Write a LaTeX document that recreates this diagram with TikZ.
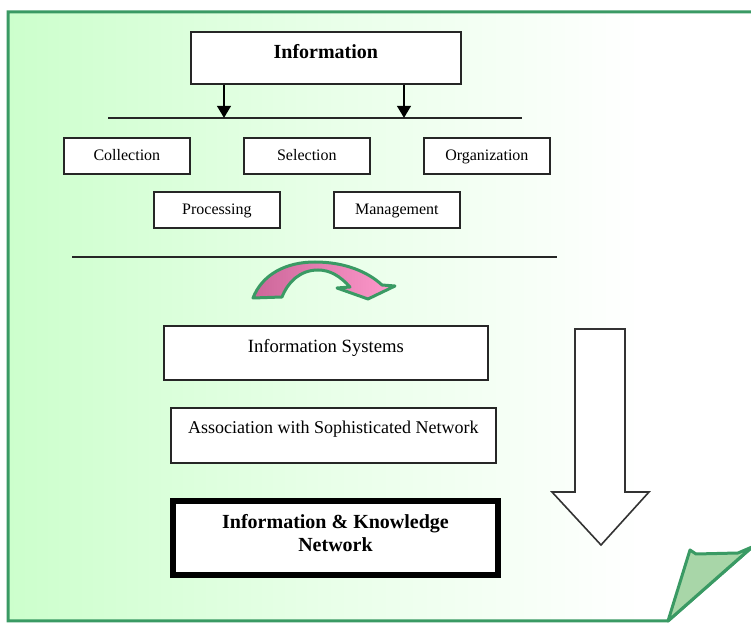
\documentclass[tikz,border=0pt]{standalone}
\usepackage{fontspec}
\setmainfont{Liberation Serif}
\usepackage{xcolor}
\usetikzlibrary{arrows.meta}

\definecolor{pagegreen}{RGB}{204,255,204}
\definecolor{edgegreen}{RGB}{58,154,100}
\definecolor{foldgreen}{RGB}{168,214,168}
\definecolor{darkpink}{RGB}{204,102,153}
\definecolor{lightpink}{RGB}{255,153,204}

\tikzset{
  box/.style={draw=black!85, fill=white, line width=1.3, inner sep=0pt, anchor=north west},
  headbox/.style={box, font=\fontsize{15}{18}\selectfont\bfseries},
  smallbox/.style={box, minimum width=94.5, minimum height=27, text height=8.5, text depth=1,
    font=\fontsize{12}{14}\selectfont},
  bigbox/.style={box, minimum width=243, font=\fontsize{14}{17}\selectfont},
  flow/.style={line width=2, -{Triangle[width=10,length=9]}},
  rule/.style={line width=1.3, black!85}
}

\begin{document}
\begin{tikzpicture}[x=0.75pt,y=0.75pt,yscale=-1,xscale=1]
    \useasboundingbox (0,0) rectangle (751,623);
    \clip (0,0) rectangle (751,623);

    %Shape: Folded Page
    \fill [white] (8,12) -- (790,12) -- (790,514) -- (668,621) -- (8,621) -- cycle ;
    \fill [left color=pagegreen, right color=white, middle color=pagegreen!45] (8,12) rectangle (640,621) ;
    \draw [draw=edgegreen, line width=2.25] (8,12) -- (790,12) -- (790,514) -- (668,621) -- (8,621) -- cycle ;
    %Shape: Page Fold
    \draw [draw=edgegreen, fill=foldgreen, line width=2.25, line join=round] (668,621) -- (690,550) -- (696,554) -- (738,553) -- (752,547) -- cycle ;

    %Straight Lines
    \coordinate (topL) at (108,118);
    \coordinate (topR) at (522,118);
    \coordinate (hitA) at (224,118);
    \coordinate (hitB) at (404,118);
    \draw [rule] (topL) -- (topR);
    \coordinate (midL) at (72,257);
    \coordinate (midR) at (557,257);
    \draw [rule] (midL) -- (midR);

    % Text Node
    \node [headbox, minimum width=202.5, minimum height=39, text height=9, text depth=7.5] (info) at (190,31) {Information};
    %Arrows
    \draw [flow] (info.south -| hitA) -- (hitA);
    \draw [flow] (info.south -| hitB) -- (hitB);

    % Text Node
    \node [smallbox] (collect) at (63,137) {Collection};
    % Text Node
    \node [smallbox] (select) at (243,137) {Selection};
    % Text Node
    \node [smallbox] (organize) at (423,137) {Organization};
    % Text Node
    \node [smallbox] (process) at (153,191) {Processing};
    % Text Node
    \node [smallbox] (manage) at (333,191) {Management};

    %Curve Lines
    \draw [draw=edgegreen, line width=2.25, line join=round, left color=darkpink, right color=lightpink] (253,298) .. controls (262,275) and (285,262) .. (315,262) .. controls (345,262) and (368,272) .. (382,285) -- (395,286) -- (368,299) -- (337,288) -- (350,287) .. controls (340,276) and (330,270) .. (318,270) .. controls (300,270) and (288,282) .. (282,297) -- cycle ;

    % Text Node
    \node [bigbox, minimum height=40.5, text height=8, text depth=8] (infosys) at (163,325) {Information Systems};
    % Text Node
    \node [bigbox, minimum width=243.75, minimum height=41.25, text height=8, text depth=10.25, font=\fontsize{13.5}{16}\selectfont] (assoc) at (170,407) {Association with Sophisticated Network};
    % Text Node
    \node [box, draw=black, line width=4.5, minimum width=243.75, minimum height=55.5, align=center, text depth=7, font=\fontsize{15}{17.25}\selectfont\bfseries] (iknet) at (170,498) {Information \& Knowledge\\Network};

    %Shape: Down Arrow
    \draw [line width=1.2, draw=black!80, fill=white] (575,329) -- (625,329) -- (625,492) -- (649,492) -- (601,545) -- (552,492) -- (575,492) -- cycle ;

\end{tikzpicture}
\end{document}
